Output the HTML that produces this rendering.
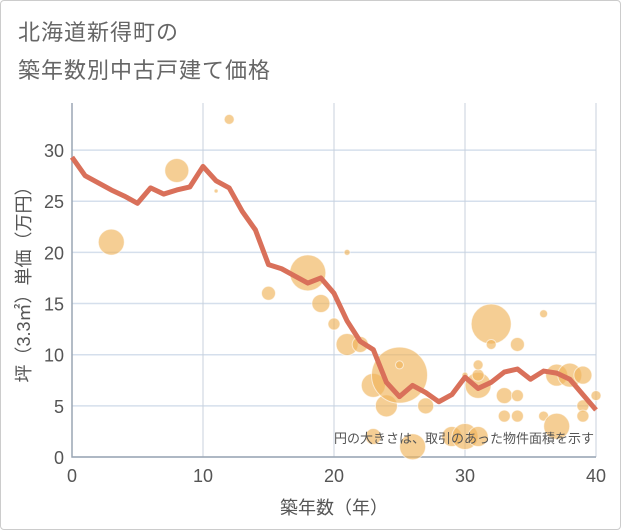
<!DOCTYPE html>
<html><head><meta charset="utf-8"><style>
body{margin:0;background:#fff;}
#wrap{position:relative;width:619px;height:528px;border:1px solid #ccc;border-radius:4px;background:#fff;overflow:hidden;font-family:"Liberation Sans","Noto Sans CJK JP",sans-serif;}
.t{position:absolute;left:17px;font-size:22px;color:#666;letter-spacing:1px;}
</style></head><body>
<div id="wrap">
<div class="t" style="top:14px">北海道新得町の</div>
<div class="t" style="top:52px">築年数別中古戸建て価格</div>
<svg id="c" width="621" height="530" style="position:absolute;left:-1px;top:-1px"></svg>
</div>
<script>
const years=[0,1,2,3,4,5,6,7,8,9,10,11,12,13,14,15,16,17,18,19,20,21,22,23,24,25,26,27,28,29,30,31,32,33,34,35,36,37,38,39,40];
const avgPrice=[29.3,27.5,26.8,26.1,25.5,24.8,26.3,25.7,26.1,26.4,28.4,27,26.3,24,22.2,18.8,18.4,17.7,17,17.5,16,13.3,11.3,10.5,7.3,5.9,7,6.3,5.4,6.1,7.8,6.7,7.3,8.3,8.6,7.6,8.4,8.2,7.6,6.1,4.6];
const bubbleX=[3,8,11,12,15,18,19,20,21,21,22,23,24,23,25,25,26,27,29,30,31,30,31,31,31,32,32,33,33,34,34,34,36,36,37,37,38,39,39,39,40];
const bubbleY=[21,28,26,33,16,18,15,13,11,20,11,7,5,2,8,9,1,5,2,2,2,8,7,8,9,13,11,6,4,11,6,4,14,4,3,8,8,8,5,4,6];
const bubbleR=[13,12,2,5,7,18,9,6,11,3,8,12,11,8,28,4,13,8,10,13,10,3,13,6,5,20,5,8,6,7,6,6,4,5,13,11,12,9,6,6,5];
const xTicks=[0,10,20,30,40];
const yTicks=[0,5,10,15,20,25,30];
const L=72,R=596,T=103,B=457;
const xs=v=>L+(v/40)*(R-L);
const ys=v=>B-(v/34.6)*(B-T);
const svg=document.getElementById('c');
const NS='http://www.w3.org/2000/svg';
function mk(tag,attrs){const e=document.createElementNS(NS,tag);for(const k in attrs)e.setAttribute(k,attrs[k]);svg.appendChild(e);return e;}
yTicks.forEach(v=>{
  const l=mk('line',{x1:L,x2:R,y1:ys(v),y2:ys(v),stroke:'#d5dfec','stroke-width':1.5});
  
  
  const t=mk('text',{x:L-8,y:ys(v)+7,'text-anchor':'end','font-size':18,fill:'#555'});
  t.textContent=v;
  
  
});
xTicks.forEach(v=>{
  const l=mk('line',{x1:xs(v),x2:xs(v),y1:T,y2:B,stroke:'#c8d0dc','stroke-width':1});
  
  
  const t=mk('text',{x:xs(v),y:B+25,'text-anchor':'middle','font-size':18,fill:'#555'});
  t.textContent=v;
  
  
});
const ax=mk('path',{d:`M${L},${T} V${B} H${R}`,fill:'none',stroke:'#9aa5b4','stroke-width':1.5});


bubbleX.forEach((x,i)=>{
  const c=mk('circle',{cx:xs(x),cy:ys(bubbleY[i]),r:bubbleR[i],fill:'rgba(240,180,90,0.65)',stroke:'rgba(255,255,255,0.6)','stroke-width':1});
  
  
});
const pl=mk('polyline',{points:years.map((y,i)=>xs(y)+','+ys(avgPrice[i])).join(' '),fill:'none',stroke:'#d9705a','stroke-width':5,'stroke-linejoin':'round'});


const n=mk('text',{x:594,y:443,'text-anchor':'end','font-size':13,fill:'#555'});
n.textContent='円の大きさは、取引のあった物件面積を示す';


const xl=mk('text',{x:(L+R)/2,y:514,'text-anchor':'middle','font-size':18,fill:'#555'});
xl.textContent='築年数（年）';


const yl=mk('text',{x:0,y:0,'text-anchor':'middle','font-size':18,fill:'#555',transform:`translate(30,${(T+B)/2}) rotate(-90)`});
yl.textContent='坪（3.3㎡）単価（万円）';


</script>
</body></html>
